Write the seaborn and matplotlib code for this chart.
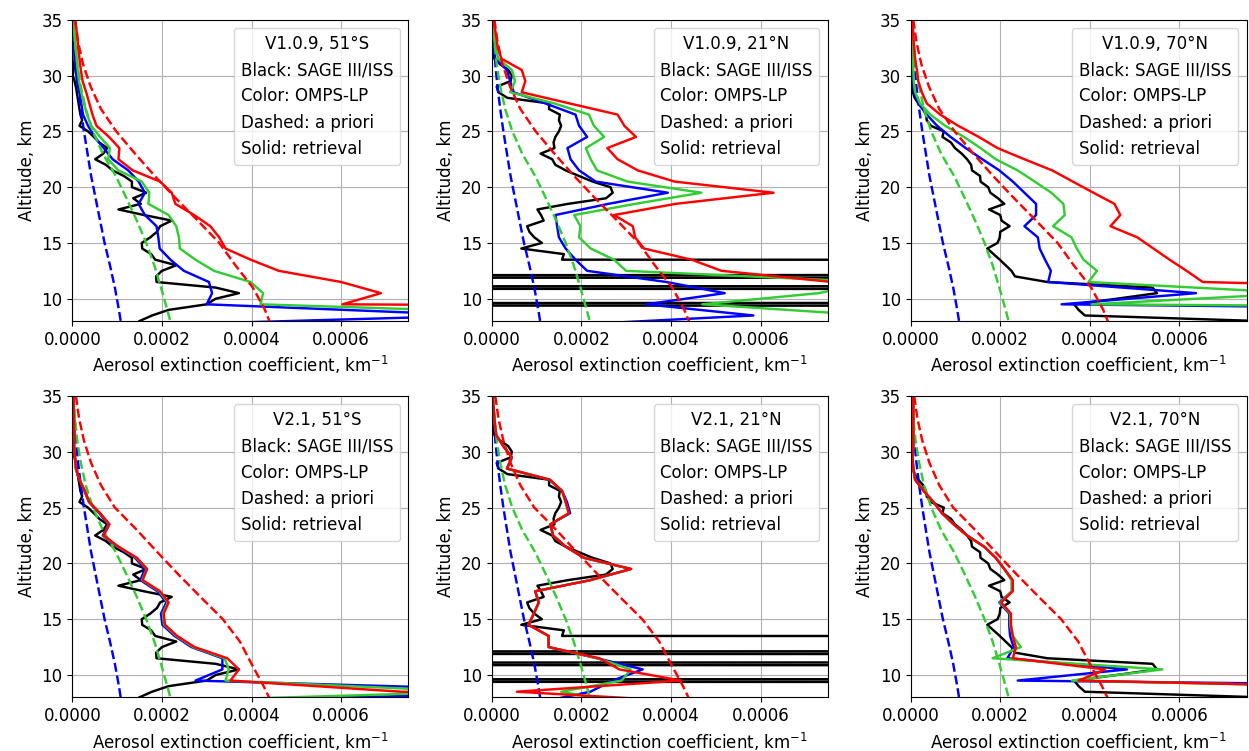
import matplotlib
matplotlib.use("Agg")
import matplotlib.pyplot as plt
from matplotlib.lines import Line2D
from matplotlib.ticker import FormatStrFormatter
import numpy as np
import seaborn as sns

plt.rcParams["font.size"] = 12
plt.rcParams["font.family"] = ["DejaVu Sans"]

# All extinction values are given in units of 1e-4 km^-1
UNIT = 1e-4
LW = 1.75

# OMPS-LP retrieval altitudes (km)
OMPS_ALT = [35.5, 34.5, 33.5, 32.5, 31.5, 30.5, 29.5, 28.5, 27.5, 26.5,
            25.5, 24.5, 23.5, 22.5, 21.5, 20.5, 19.5, 18.5, 17.5, 16.5,
            15.5, 14.5, 13.5, 12.5, 11.5, 10.5, 9.5, 8.5, 7.5]

# SAGE III/ISS altitudes (km)
SAGE_ALT = [35.0, 34.5, 34.0, 33.5, 33.0, 32.5, 32.0, 31.5, 31.0, 30.5,
            30.0, 29.5, 29.0, 28.5, 28.0, 27.5, 27.0, 26.5, 26.0, 25.5,
            25.0, 24.5, 24.0, 23.5, 23.0, 22.5, 22.0, 21.5, 21.0, 20.5,
            20.0, 19.5, 19.0, 18.5, 18.0, 17.5, 17.0, 16.5, 16.0, 15.5,
            15.0, 14.5, 14.0, 13.5, 13.0, 12.5, 12.0, 11.5, 11.0, 10.5,
            10.0, 9.5, 9.0, 8.5, 8.0]

# A priori altitudes (km)
APRIORI_ALT = [35, 33, 31, 29, 27, 25, 23, 21, 19, 17, 15, 13, 11, 9, 7.5]

# SAGE III/ISS profiles
SAGE_51S = [0.02, 0.02, 0.03, 0.03, 0.04, 0.04, 0.05, 0.05, 0.04, 0.03,
            0.01, 0.05, 0.08, 0.10, 0.12, 0.14, 0.16, 0.18, 0.22, 0.16,
            0.35, 0.48, 0.60, 0.78, 0.69, 0.51, 0.75, 0.90, 1.15, 1.33,
            1.33, 1.65, 1.36, 1.53, 1.03, 1.60, 2.22, 1.96, 1.89, 1.74,
            1.55, 1.56, 1.76, 1.85, 2.32, 2.00, 1.87, 1.88, 3.20, 3.72,
            3.20, 3.00, 2.15, 1.78, 1.50]
SAGE_21N = [0.01, 0.01, 0.02, 0.02, 0.03, 0.03, 0.04, 0.06, 0.19, 0.37,
            0.45, 0.42, 0.11, 0.15, 0.35, 1.28, 1.28, 1.52, 1.50, 1.55,
            1.50, 1.42, 1.38, 1.40, 1.09, 1.35, 1.42, 1.65, 1.95, 2.25,
            2.65, 2.70, 2.55, 1.70, 1.02, 1.10, 1.16, 0.79, 0.84, 0.95,
            1.12, 0.66, 1.61, 1.57, 500.0, 500.0, -150.0, 500.0, -150.0, 500.0,
            500.0, -150.0, 500.0, 500.0, 500.0]
SAGE_70N = [0.02, 0.02, 0.02, 0.02, 0.02, 0.02, 0.02, 0.02, 0.02, 0.02,
            0.02, 0.01, 0.03, 0.05, 0.09, 0.17, 0.28, 0.34, 0.36, 0.45,
            0.74, 0.71, 0.90, 0.99, 1.14, 1.26, 1.35, 1.37, 1.55, 1.56,
            1.73, 1.78, 1.95, 2.09, 1.75, 2.00, 2.03, 2.21, 2.00, 1.99,
            1.94, 1.71, 1.85, 1.99, 2.12, 2.25, 2.33, 3.05, 5.40, 5.50,
            4.60, 3.65, 3.75, 3.89, 7.80]

# A priori profiles
APRIORI_BLUE = [0.02, 0.045, 0.08, 0.13, 0.19, 0.26, 0.34, 0.42, 0.52, 0.62, 0.72, 0.84, 0.95, 1.04, 1.10]
APRIORI_GREEN = [0.03, 0.06, 0.11, 0.19, 0.30, 0.46, 0.68, 0.97, 1.21, 1.44, 1.65, 1.83, 1.98, 2.12, 2.22]
APRIORI_RED_V1 = [0.06, 0.13, 0.24, 0.41, 0.64, 0.98, 1.40, 1.84, 2.31, 2.80, 3.28, 3.64, 4.03, 4.30, 4.45]
APRIORI_RED_V2 = [0.08, 0.15, 0.26, 0.42, 0.64, 0.95, 1.44, 1.90, 2.37, 2.86, 3.36, 3.74, 4.00, 4.27, 4.45]

# OMPS-LP V1.0.9 retrievals
V1_51S_BLUE = [0.02, 0.02, 0.03, 0.04, 0.06, 0.08, 0.10, 0.16, 0.20, 0.24, 0.35, 0.50, 0.70, 0.90, 1.25,
               1.48, 1.62, 1.48, 1.62, 1.88, 1.92, 1.95, 2.19, 2.49, 3.05, 3.12, 3.00, 9.16, 0.50]
V1_51S_GREEN = [0.02, 0.03, 0.05, 0.07, 0.10, 0.12, 0.15, 0.20, 0.26, 0.33, 0.42, 0.62, 0.84, 0.80, 1.03,
                1.55, 1.72, 1.70, 2.15, 2.32, 2.38, 2.40, 2.75, 3.16, 3.98, 4.26, 4.20, 12.0, 12.0]
V1_51S_RED = [0.05, 0.08, 0.11, 0.13, 0.16, 0.19, 0.23, 0.31, 0.38, 0.45, 0.54, 0.82, 1.05, 1.03, 1.35,
              1.96, 2.22, 2.30, 2.72, 3.08, 3.28, 3.42, 3.98, 4.61, 6.00, 6.89, 6.03, 50.0, 50.0]

V1_21N_BLUE = [0.01, 0.02, 0.03, 0.05, 0.08, 0.34, 0.41, 0.49, 1.20, 1.87, 1.95, 2.13, 1.69, 1.76, 1.95,
               2.32, 3.93, 2.60, 1.42, 1.46, 1.50, 1.65, 1.87, 2.13, 3.90, 5.20, 3.45, 5.84, 1.00]
V1_21N_GREEN = [0.02, 0.03, 0.05, 0.08, 0.15, 0.45, 0.52, 0.41, 1.40, 2.17, 2.28, 2.51, 2.10, 2.21, 2.35,
                3.03, 4.68, 3.20, 1.84, 1.98, 1.95, 2.21, 2.73, 3.00, 8.50, 7.30, 4.70, 8.50, 8.50]
V1_21N_RED = [0.04, 0.06, 0.10, 0.13, 0.22, 0.67, 0.75, 0.67, 1.74, 2.81, 2.96, 3.22, 2.58, 2.81, 3.26,
              4.08, 6.29, 4.10, 2.73, 3.15, 3.20, 3.40, 4.46, 5.13, 7.60, 15.0, 15.0, 15.0, 15.0]

V1_70N_BLUE = [0.01, 0.01, 0.02, 0.02, 0.03, 0.04, 0.05, 0.08, 0.17, 0.36, 0.59, 0.89, 1.23, 1.60, 1.98,
               2.28, 2.54, 2.80, 2.80, 2.54, 2.84, 2.88, 3.00, 3.13, 3.07, 6.37, 3.37, 26.0, 26.0]
V1_70N_GREEN = [0.02, 0.02, 0.03, 0.04, 0.05, 0.06, 0.07, 0.10, 0.21, 0.44, 0.77, 1.19, 1.56, 1.90, 2.39,
                2.77, 3.14, 3.41, 3.44, 3.18, 3.59, 3.71, 3.86, 4.16, 3.97, 8.70, 4.04, 40.0, 40.0]
V1_70N_RED = [0.04, 0.05, 0.06, 0.08, 0.10, 0.14, 0.17, 0.25, 0.36, 0.66, 1.06, 1.52, 1.94, 2.54, 3.16,
              3.62, 4.08, 4.55, 4.68, 4.46, 5.06, 5.42, 5.78, 6.16, 6.52, 16.5, 20.0, 20.0, 20.0]

# OMPS-LP V2.1 retrievals
V2_51S_BLUE = [0.02, 0.03, 0.03, 0.04, 0.04, 0.04, 0.06, 0.08, 0.15, 0.27, 0.37, 0.60, 0.80, 0.68, 1.00,
               1.40, 1.62, 1.52, 1.90, 2.10, 1.98, 2.01, 2.28, 2.66, 3.35, 3.35, 2.75, 11.4, 1.00]
V2_51S_GREEN = [0.02, 0.03, 0.03, 0.04, 0.04, 0.04, 0.06, 0.08, 0.16, 0.28, 0.38, 0.62, 0.82, 0.70, 1.02,
                1.43, 1.66, 1.56, 1.94, 2.13, 2.02, 2.05, 2.32, 2.70, 3.40, 3.49, 3.42, 9.00, 0.70]
V2_51S_RED = [0.02, 0.03, 0.03, 0.04, 0.04, 0.04, 0.06, 0.08, 0.16, 0.28, 0.38, 0.62, 0.83, 0.70, 1.03,
              1.44, 1.67, 1.57, 1.96, 2.15, 2.04, 2.07, 2.34, 2.73, 3.46, 3.72, 3.53, 7.34, 30.0]

V2_21N_BLUE = [0.02, 0.03, 0.05, 0.07, 0.10, 0.26, 0.45, 0.34, 1.28, 1.57, 1.68, 1.75, 1.31, 1.37, 1.65,
               2.06, 3.11, 2.20, 0.97, 1.05, 0.94, 0.82, 1.27, 1.27, 2.35, 3.37, 2.70, 2.20, 1.00]
V2_21N_GREEN = [0.02, 0.03, 0.05, 0.07, 0.10, 0.26, 0.45, 0.34, 1.30, 1.57, 1.65, 1.72, 1.31, 1.37, 1.65,
                2.06, 3.11, 2.20, 0.97, 1.05, 0.94, 0.82, 1.27, 1.27, 2.36, 3.10, 2.90, 1.55, 3.00]
V2_21N_RED = [0.02, 0.03, 0.05, 0.07, 0.10, 0.26, 0.45, 0.34, 1.30, 1.57, 1.65, 1.72, 1.31, 1.37, 1.65,
              2.06, 3.11, 2.20, 0.97, 1.05, 0.94, 0.82, 1.27, 1.27, 2.40, 2.85, 4.23, 0.56, 4.90]

V2_70N_BLUE = [0.05, 0.06, 0.06, 0.06, 0.06, 0.06, 0.04, 0.06, 0.10, 0.29, 0.51, 0.70, 0.96, 1.26, 1.64,
               1.90, 2.09, 2.26, 2.26, 1.98, 2.20, 2.20, 2.22, 2.30, 2.16, 4.83, 2.39, 24.0, 24.0]
V2_70N_GREEN = [0.05, 0.06, 0.06, 0.06, 0.06, 0.06, 0.04, 0.06, 0.10, 0.29, 0.51, 0.70, 0.96, 1.26, 1.64,
                1.90, 2.09, 2.26, 2.26, 2.00, 2.22, 2.22, 2.28, 2.46, 1.83, 5.62, 3.60, 15.0, 15.0]
V2_70N_RED = [0.05, 0.06, 0.06, 0.06, 0.06, 0.06, 0.04, 0.06, 0.10, 0.29, 0.51, 0.70, 0.96, 1.26, 1.64,
              1.90, 2.09, 2.28, 2.28, 2.02, 2.24, 2.24, 2.28, 2.35, 2.28, 4.34, 3.75, 15.0, 15.0]

TITLES = ["V1.0.9, 51°S", "V1.0.9, 21°N", "V1.0.9, 70°N",
          "V2.1, 51°S", "V2.1, 21°N", "V2.1, 70°N"]
LEGEND_LINES = ["Black: SAGE III/ISS", "Color: OMPS-LP", "Dashed: a priori", "Solid: retrieval"]
X_TICKS = [0.0, 0.0002, 0.0004, 0.0006]
Y_TICKS = [10, 15, 20, 25, 30, 35]

COLORS = {"blue": "#0000ff", "green": "#32cd32", "red": "#ff0000"}

panels = [
    (SAGE_51S, {"blue": V1_51S_BLUE, "green": V1_51S_GREEN, "red": V1_51S_RED}, APRIORI_RED_V1),
    (SAGE_21N, {"blue": V1_21N_BLUE, "green": V1_21N_GREEN, "red": V1_21N_RED}, APRIORI_RED_V1),
    (SAGE_70N, {"blue": V1_70N_BLUE, "green": V1_70N_GREEN, "red": V1_70N_RED}, APRIORI_RED_V1),
    (SAGE_51S, {"blue": V2_51S_BLUE, "green": V2_51S_GREEN, "red": V2_51S_RED}, APRIORI_RED_V2),
    (SAGE_21N, {"blue": V2_21N_BLUE, "green": V2_21N_GREEN, "red": V2_21N_RED}, APRIORI_RED_V2),
    (SAGE_70N, {"blue": V2_70N_BLUE, "green": V2_70N_GREEN, "red": V2_70N_RED}, APRIORI_RED_V2),
]

fig = plt.figure(figsize=(12.49, 7.51), dpi=100)
lefts = [0.0579, 0.3937, 0.7291]
bottoms = [0.5725, 0.0715]
width, height = 0.2690, 0.4012

omps_alt = np.array(OMPS_ALT)
sage_alt = np.array(SAGE_ALT)
apr_alt = np.array(APRIORI_ALT)

for i, (sage, retrievals, apr_red) in enumerate(panels):
    row, col = divmod(i, 3)
    ax = fig.add_axes([lefts[col], bottoms[row], width, height])
    ax.grid(True, color="#b0b0b0", linewidth=0.8)
    ax.set_axisbelow(True)

    sns.lineplot(x=np.array(sage) * UNIT, y=sage_alt, sort=False, estimator=None,
                 color="black", linewidth=LW, ax=ax, legend=False)

    apriori = {"blue": APRIORI_BLUE, "green": APRIORI_GREEN, "red": apr_red}
    for name in ["blue", "green", "red"]:
        sns.lineplot(x=np.array(retrievals[name]) * UNIT, y=omps_alt, sort=False,
                     estimator=None, color=COLORS[name], linewidth=LW, ax=ax, legend=False)
        sns.lineplot(x=np.array(apriori[name]) * UNIT, y=apr_alt, sort=False,
                     estimator=None, color=COLORS[name], linewidth=LW, linestyle="--",
                     ax=ax, legend=False)

    ax.set_xlim(0, 0.00075)
    ax.set_ylim(8, 35)
    ax.set_xticks(X_TICKS)
    ax.set_yticks(Y_TICKS)
    ax.xaxis.set_major_formatter(FormatStrFormatter("%.4f"))
    ax.set_xlabel("Aerosol extinction coefficient, km$^{-1}$")
    ax.set_ylabel("Altitude, km")

    handles = [Line2D([], [], linestyle="none") for _ in LEGEND_LINES]
    ax.legend(handles, LEGEND_LINES, title=TITLES[i], loc="upper right",
              handlelength=0, handletextpad=0, fontsize=12, title_fontsize=12)

fig.savefig("out.png", dpi=100)
